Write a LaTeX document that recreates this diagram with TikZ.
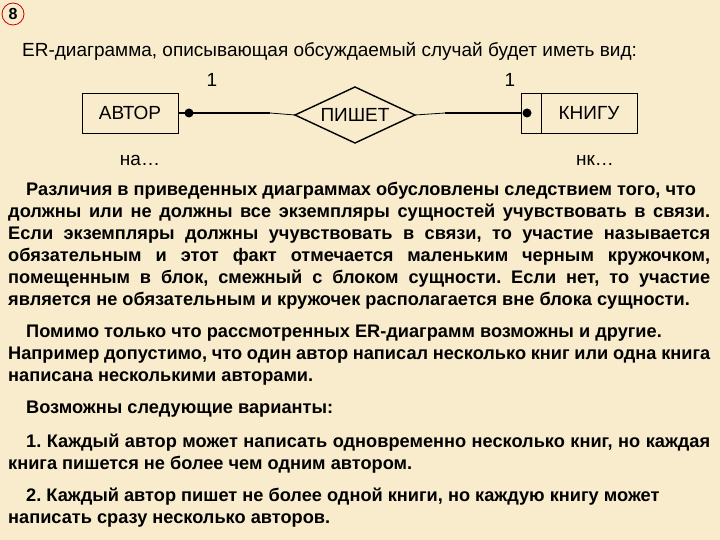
\documentclass[tikz,border=0pt]{standalone}
\usepackage{fontspec}
\setmainfont{Liberation Sans}
\frenchspacing
\definecolor{bg}{HTML}{F8ECCD}
\tikzset{ent/.style={draw,thick,minimum height=40pt,font=\fontsize{19}{22}\selectfont},
 lbl/.style={font=\fontsize{19}{22}\selectfont},
 ln/.style={anchor=base west,inner sep=0pt,font=\bfseries\fontsize{18.2}{21}\selectfont}}
\newcommand{\jl}[1]{\hbox to 702pt{#1}}
\newcommand{\jli}[1]{\hbox to 684pt{#1}}
\begin{document}
\begin{tikzpicture}[x=1pt,y=-1pt]
\fill[bg] (0,0) rectangle (720,540);
\useasboundingbox (0,0) rectangle (720,540);
\node[draw=red!80!black,thick,circle,inner sep=1pt,minimum size=22pt,font=\bfseries\fontsize{16}{18}\selectfont] (num) at (13,14) {8};
\node[ln,font=\fontsize{19}{22}\selectfont] (t) at (22,57) {ER-диаграмма, описывающая обсуждаемый случай будет иметь вид:};
\node[ent,minimum width=96pt] (a) at (130,113) {АВТОР};
\coordinate (pw) at (295,115);
\coordinate (pe) at (415,115);
\draw[line width=1.4pt] (pw) -- (355,87) -- (pe) -- (355,143) -- cycle;
\node[lbl] (p) at (355,115) {ПИШЕТ};
\node[ent,minimum width=116pt] (k) at (579,113) {};
\node[lbl] at (589,113) {КНИГУ};
\draw[thick] (541,93) -- (541,133);
\coordinate (d1) at (189,113);
\coordinate (d2) at (527,113);
\fill (d1) circle (4.5);
\fill (d2) circle (4.5);
\coordinate (m1) at (270,113);
\coordinate (m2) at (445,113);
\draw[line width=2.2pt] (a.east) -- (m1);
\draw[thick] (m1) -- (pw);
\draw[thick] (pe) -- (m2);
\draw[line width=2.2pt] (m2) -- (k.west);
\node[lbl] (o1) at (212,80) {1};
\node[lbl] (o2) at (510,80) {1};
\node[lbl] (na) at (140,160) {на…};
\node[lbl] (nk) at (595,160) {нк…};
\node[ln] at (26,196) {Различия в приведенных диаграммах обусловлены следствием того, что};
\node[ln] at (8,218) {\jl{должны или не должны все экземпляры сущностей учувствовать в связи.}};
\node[ln] at (8,240) {\jl{Если экземпляры должны учувствовать в связи, то участие называется}};
\node[ln] at (8,261) {\jl{обязательным и этот факт отмечается маленьким черным кружочком,}};
\node[ln] at (8,283) {\jl{помещенным в блок, смежный с блоком сущности. Если нет, то участие}};
\node[ln] at (8,305) {является не обязательным и кружочек располагается вне блока сущности.};
\node[ln] at (26,337) {Помимо только что рассмотренных ER-диаграмм возможны и другие.};
\node[ln] at (8,359) {\jl{Например допустимо, что один автор написал несколько книг или одна книга}};
\node[ln] at (8,381) {написана несколькими авторами.};
\node[ln] at (26,413) {Возможны следующие варианты:};
\node[ln] at (26,447) {\jli{1. Каждый автор может написать одновременно несколько книг, но каждая}};
\node[ln] at (8,469) {книга пишется не более чем одним автором.};
\node[ln] at (26,501) {2. Каждый автор пишет не более одной книги, но каждую книгу может};
\node[ln] at (8,523) {написать сразу несколько авторов.};
\end{tikzpicture}
\end{document}
